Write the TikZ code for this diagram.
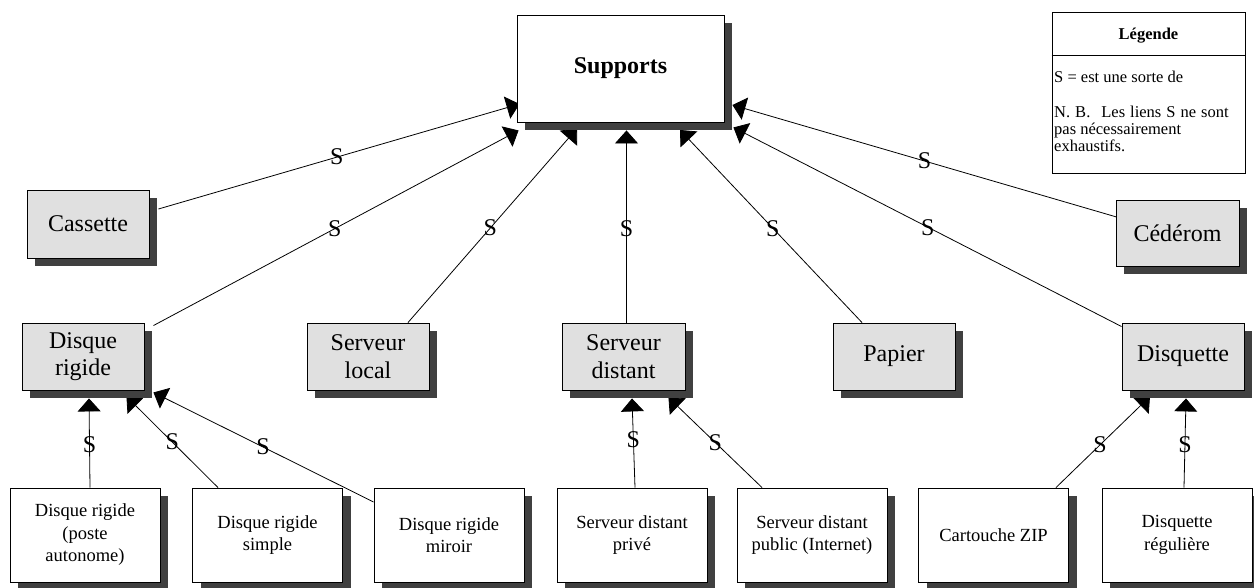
\documentclass[tikz,border=0pt]{standalone}
\usepackage{fontspec}
\setmainfont{Liberation Serif}
\newfontfamily\tnr{Liberation Serif}
\usetikzlibrary{arrows.meta,shadows}
\pgfdeclarelayer{bg}
\pgfsetlayers{bg,main}
\definecolor{boxgray}{RGB}{224,224,224}
\definecolor{shadowgray}{RGB}{64,64,64}
\tikzset{
  shad/.style={drop shadow={shadow xshift=8pt,shadow yshift=-8pt,fill=shadowgray,opacity=1}},
  gbox/.style={shad,draw,line width=0.9pt,fill=boxgray,inner sep=0pt,align=center,
    minimum width=122pt,minimum height=67pt,font=\tnr\fontsize{24}{27.5}\selectfont},
  wbox/.style={shad,draw,line width=0.9pt,fill=white,inner sep=0pt,align=center,
    minimum width=150pt,minimum height=94pt,font=\tnr\fontsize{18.5}{22.5}\selectfont},
  conn/.style={line width=0.8pt,-{Triangle[length=13pt,width=23pt]}},
  slab/.style={inner sep=0pt,font=\tnr\fontsize{24}{27}\selectfont},
  legtxt/.style={inner sep=0pt,anchor=base west,font=\tnr\fontsize{16.5}{17}\selectfont}
}
\begin{document}
\begin{tikzpicture}[x=1pt,y=-1pt]
\useasboundingbox (0,0) rectangle (1254,588);
% main node
\node[shad,draw,line width=0.9pt,fill=white,inner sep=0pt,minimum width=207pt,minimum height=107pt,
  font=\tnr\fontsize{24}{27}\selectfont\bfseries] (sup) at (620.5,68.5) {Supports};
% legend
\node[draw,line width=0.9pt,fill=white,inner sep=0pt,minimum width=193pt,minimum height=161pt] (leg) at (1148.5,92.5) {};
\draw[line width=0.9pt] ([yshift=-44pt]leg.north west) -- ([yshift=-44pt]leg.north east);
\node[inner sep=0pt,anchor=base,font=\tnr\fontsize{16.5}{17}\selectfont\bfseries] (legt) at (1148.5,40) {Légende};
\node[legtxt] (leg1) at (1054,83) {S = est une sorte de};
\node[legtxt] (leg2) at (1054,118) {N.\hspace{5pt}B.\hspace{11pt}Les\hspace{5pt}liens\hspace{5pt}S\hspace{5pt}ne\hspace{5pt}sont};
\node[legtxt] (leg3) at (1054,135) {pas nécessairement};
\node[legtxt] (leg4) at (1054,152) {exhaustifs.};
% gray nodes
\node[gbox,minimum height=68pt] (cas) at (88,224) {Cassette};
\node[gbox,minimum width=123pt,minimum height=66pt] (ced) at (1177.5,233) {Cédérom};
\node[gbox] (dr) at (83,356.5) {Disque\\rigide};
\node[gbox] (sl) at (368,356.5) {Serveur\\local};
\node[gbox,minimum width=123pt] (sd) at (623.5,356.5) {Serveur\\distant};
\node[gbox] (pap) at (894,356.5) {Papier};
\node[gbox] (dsq) at (1183,356.5) {Disquette};
% white bottom nodes
\node[wbox] (pa) at (85,535) {Disque rigide\\(poste\\autonome)};
\node[wbox] (sim) at (267.5,535) {Disque rigide\\simple};
\node[wbox] (mir) at (449,535) {Disque rigide\\miroir};
\node[wbox] (pri) at (632,535) {Serveur distant\\privé};
\node[wbox] (pub) at (812,535) {Serveur distant\\public (Internet)};
\node[wbox] (zip) at (993.5,535) {Cartouche ZIP};
\node[wbox] (reg) at (1177,535) {Disquette\\régulière};
% connectors
\begin{pgfonlayer}{bg}
\draw[conn] ([shift={(9,-15)}]cas.east) -- node[slab,pos=0.494]{S} ([shift={(3,35.5)}]sup.west);
\draw[conn] ([shift={(9,3)}]dr.north east) -- node[slab,pos=0.497]{S} ([shift={(2,8)}]sup.south west);
\draw[conn] ([shift={(40,0)}]sl.north) -- node[slab,pos=0.487]{S} ([shift={(-43.5,6)}]sup.south);
\draw[conn] ([shift={(3,0)}]sd.north) -- node[slab,pos=0.49]{S} ([shift={(6,8)}]sup.south);
\draw[conn] ([shift={(-32,0)}]pap.north) -- node[slab,pos=0.49]{S} ([shift={(59.5,7.5)}]sup.south);
\draw[conn] ([shift={(0,4)}]dsq.north west) -- node[slab,pos=0.499]{S} ([shift={(9,5)}]sup.south east);
\draw[conn] ([shift={(1,-16)}]ced.west) -- node[slab,pos=0.5]{S} ([shift={(8,36.5)}]sup.east);
\draw[conn] ([shift={(5,0)}]pa.north) -- node[slab,pos=0.478]{S} ([shift={(6,8)}]dr.south);
\draw[conn] ([shift={(-49.5,0)}]sim.north) -- node[slab,pos=0.5]{S} ([shift={(-18,6)}]dr.south east);
\draw[conn] ([shift={(0,-33)}]mir.west) -- node[slab,pos=0.502]{S} ([shift={(9,2)}]dr.south east);
\draw[conn] ([shift={(3,0)}]pri.north) -- node[slab,pos=0.533]{S} ([shift={(8.5,8)}]sd.south);
\draw[conn] ([shift={(-50,0)}]pub.north) -- node[slab,pos=0.5]{S} ([shift={(-17,7)}]sd.south east);
\draw[conn] ([shift={(62.5,0)}]zip.north) -- node[slab,pos=0.468]{S} ([shift={(-33,6)}]dsq.south);
\draw[conn] ([shift={(7,0)}]reg.north) -- node[slab,pos=0.478]{S} ([shift={(3,8)}]dsq.south);
\end{pgfonlayer}
\end{tikzpicture}
\end{document}
